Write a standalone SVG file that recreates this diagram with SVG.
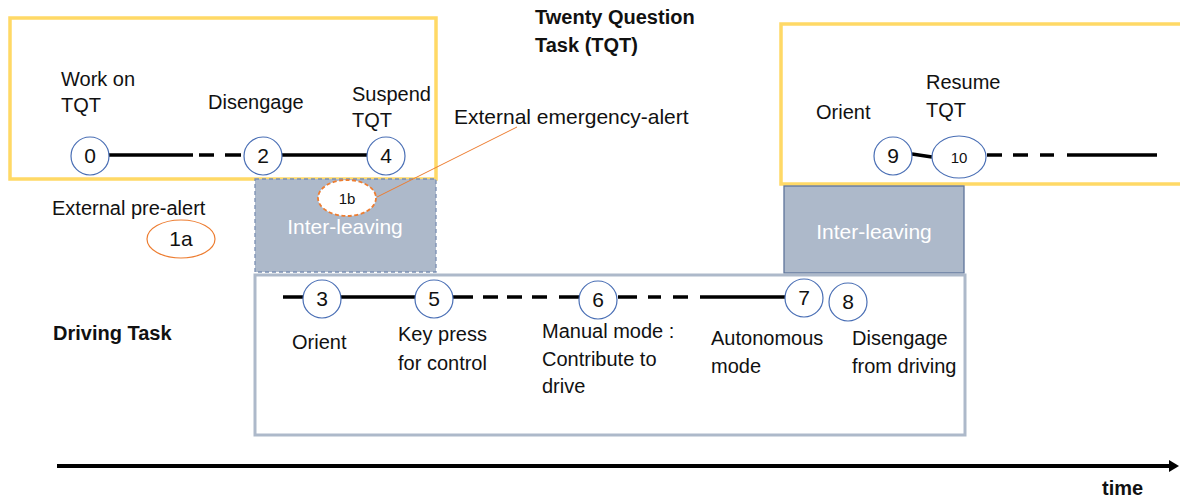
<svg xmlns="http://www.w3.org/2000/svg" width="1180" height="499" viewBox="0 0 1180 499">
  <style>
    text { font-family: "Liberation Sans", Arial, sans-serif; font-size: 20px; fill: #111; }
    .bold { font-weight: bold; }
    .num { text-anchor: middle; font-size: 21px; }
    .small { text-anchor: middle; font-size: 15px; }
    .step { fill: #fff; stroke: #4a6fb5; stroke-width: 1.2; }
    .tqt { fill: none; stroke: #ffd966; stroke-width: 3.5; }
    .inter { fill: #adb9ca; }
    .interText { fill: #fff; font-size: 21px; text-anchor: middle; }
    .track { stroke: #000; stroke-width: 3.5; fill: none; }
    .alert { fill: #fff; stroke: #ed7d31; }
    .wide { font-size: 21px; }
  </style>
  <defs>
    <marker id="arrow" markerWidth="10" markerHeight="12" refX="1" refY="6" orient="auto" markerUnits="userSpaceOnUse">
      <path d="M0,0 L10,6 L0,12 Z" fill="#000"/>
    </marker>
    <clipPath id="drivingClip">
      <rect x="255" y="275" width="708" height="160"/>
    </clipPath>
  </defs>

  <!-- task frames -->
  <g id="tqt-frame-left">
    <rect class="tqt" x="10" y="18" width="426" height="161"/>
  </g>
  <g id="tqt-frame-right">
    <rect class="tqt" x="781" y="24" width="420" height="160"/>
  </g>
  <g id="tqt-title">
    <text class="bold" x="535" y="24">Twenty Question</text>
    <text class="bold" x="535" y="52">Task (TQT)</text>
  </g>

  <g id="interleaving-1">
    <rect class="inter" x="255" y="179" width="181" height="93" stroke="#7a8fb3" stroke-width="1.3" stroke-dasharray="4,3"/>
    <text class="interText" x="345" y="234">Inter-leaving</text>
  </g>
  <g id="interleaving-2">
    <rect class="inter" x="784" y="186" width="180" height="87" stroke="#5f749a" stroke-width="1.3"/>
    <text class="interText" x="874" y="239">Inter-leaving</text>
  </g>

  <g id="driving-frame">
    <rect x="255" y="275" width="710" height="160" fill="none" stroke="#adb9ca" stroke-width="3"/>
    <text class="bold" x="53" y="340">Driving Task</text>
  </g>

  <!-- timeline segments -->
  <g id="connectors">
    <line class="track" x1="109" y1="155" x2="193" y2="155"/>
    <line class="track" x1="199" y1="155" x2="214" y2="155"/>
    <line class="track" x1="225" y1="155" x2="241" y2="155"/>
    <line class="track" x1="282" y1="155" x2="367" y2="155"/>

    <line class="track" x1="912" y1="154" x2="932" y2="157"/>
    <line class="track" x1="987" y1="155" x2="1002" y2="155"/>
    <line class="track" x1="1013" y1="155" x2="1028" y2="155"/>
    <line class="track" x1="1040" y1="155" x2="1054" y2="155"/>
    <line class="track" x1="1067" y1="155" x2="1157" y2="155"/>

    <line class="track" x1="283" y1="297" x2="303" y2="297"/>
    <line class="track" x1="341" y1="297" x2="415" y2="297"/>
    <line class="track" x1="453" y1="297" x2="473" y2="297"/>
    <line class="track" x1="483" y1="297" x2="498" y2="297"/>
    <line class="track" x1="507" y1="297" x2="522" y2="297"/>
    <line class="track" x1="532" y1="297" x2="547" y2="297"/>
    <line class="track" x1="559" y1="297" x2="579" y2="297"/>
    <line class="track" x1="618" y1="297" x2="637" y2="297"/>
    <line class="track" x1="648" y1="297" x2="661" y2="297"/>
    <line class="track" x1="673" y1="297" x2="688" y2="297"/>
    <line class="track" x1="700" y1="297" x2="785" y2="297"/>

    <line x1="377" y1="197" x2="517" y2="127" stroke="#ed7d31" stroke-width="1"/>

    <line x1="57" y1="466" x2="1170" y2="466" stroke="#000" stroke-width="4" marker-end="url(#arrow)"/>
  </g>

  <!-- TQT steps -->
  <g id="step-0">
    <circle class="step" cx="90" cy="156" r="19"/>
    <text class="num" x="90" y="163">0</text>
    <text x="61" y="86">Work on</text>
    <text x="61" y="112">TQT</text>
  </g>
  <g id="step-2">
    <circle class="step" cx="263" cy="156" r="19"/>
    <text class="num" x="263" y="163">2</text>
    <text x="208" y="109">Disengage</text>
  </g>
  <g id="step-4">
    <circle class="step" cx="386" cy="156" r="19"/>
    <text class="num" x="386" y="163">4</text>
    <text x="352" y="101">Suspend</text>
    <text x="352" y="127">TQT</text>
  </g>
  <g id="step-9">
    <circle class="step" cx="893" cy="156" r="19"/>
    <text class="num" x="893" y="163">9</text>
    <text x="816" y="119">Orient</text>
  </g>
  <g id="step-10">
    <ellipse class="step" cx="959" cy="157" rx="27" ry="21"/>
    <text class="small" x="959" y="163">10</text>
    <text x="926" y="89">Resume</text>
    <text x="926" y="117">TQT</text>
  </g>

  <!-- alerts -->
  <g id="alert-1a">
    <text x="52" y="215">External pre-alert</text>
    <ellipse class="alert" cx="181" cy="239" rx="34" ry="19" stroke-width="1.2"/>
    <text class="num" x="181" y="246">1a</text>
  </g>
  <g id="alert-1b">
    <text class="wide" x="454" y="124">External emergency-alert</text>
    <ellipse class="alert" cx="347" cy="198" rx="29" ry="18" stroke-width="1.8" stroke-dasharray="4,2.5"/>
    <text class="small" x="347" y="204">1b</text>
  </g>

  <!-- driving steps -->
  <g id="step-3">
    <circle class="step" cx="322" cy="299" r="19"/>
    <text class="num" x="322" y="306">3</text>
    <text x="292" y="349">Orient</text>
  </g>
  <g id="step-5">
    <circle class="step" cx="434" cy="299" r="19"/>
    <text class="num" x="434" y="306">5</text>
    <text x="398" y="341">Key press</text>
    <text x="398" y="370">for control</text>
  </g>
  <g id="step-6">
    <circle class="step" cx="598" cy="300" r="19"/>
    <text class="num" x="598" y="307">6</text>
    <text x="542" y="338">Manual mode :</text>
    <text x="542" y="366">Contribute to</text>
    <text x="542" y="393">drive</text>
  </g>
  <g id="step-7">
    <circle class="step" cx="804" cy="298" r="19"/>
    <text class="num" x="804" y="305">7</text>
    <text x="711" y="345">Autonomous</text>
    <text x="711" y="373">mode</text>
  </g>
  <g id="step-8">
    <circle class="step" cx="848" cy="302" r="19"/>
    <text class="num" x="848" y="309">8</text>
    <g clip-path="url(#drivingClip)">
      <text x="852" y="345">Disengage</text>
      <text x="852" y="373">from driving</text>
    </g>
  </g>

  <g id="time-label">
    <text class="bold" x="1102" y="495">time</text>
  </g>
</svg>
